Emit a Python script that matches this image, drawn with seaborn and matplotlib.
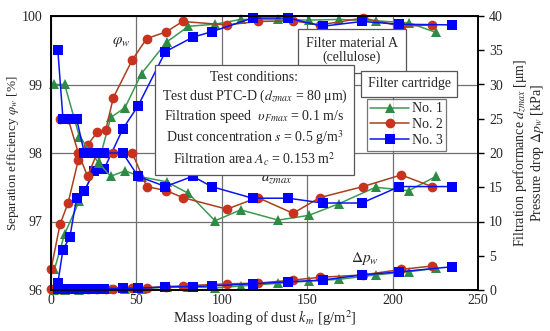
import numpy as np
import pandas as pd
import seaborn as sns
import matplotlib.pyplot as plt
from matplotlib.lines import Line2D

# cartridge No. 1 (green)
x1 = [2, 8, 16.6, 28, 35, 43.3, 53, 67.7, 80.5, 96, 111, 133, 151, 168.6, 190, 209.5, 225.5]
phi1 = [96.3, 96.82, 97.3, 97.87, 98.52, 98.66, 99.16, 99.62, 99.85, 99.88, 99.95, 99.95, 99.94, 99.95, 99.93, 99.90, 99.76]
dz1 = [30, 30, 22.4, 18.5, 16.6, 17.4, 16.5, 15.8, 14.1, 10.1, 11.7, 10.2, 10.9, 12.6, 15.0, 14.5, 16.6]
dp1 = [0.05, 0.05, 0.05, 0.1, 0.1, 0.1, 0.2, 0.4, 0.5, 0.3, 0.58, 0.98, 1.3, 1.56, 2.2, 2.67, 3.17]

# cartridge No. 2 (red)
x2 = [0, 5.3, 10, 16, 21.4, 27, 32, 36.5, 47.6, 56, 67.6, 77, 103, 121, 141.7, 157.5, 182.7, 205, 223]
phi2 = [96.3, 96.96, 97.27, 97.9, 98.12, 98.30, 98.33, 98.81, 99.36, 99.67, 99.77, 99.92, 99.87, 99.92, 99.93, 99.87, 99.97, 99.85, 99.87]
dz2 = [np.nan, 25, 25, 20, 16.6, 20, 20, 20, 20, 15.1, 14.5, 13.5, 11.8, 13.5, 11.2, 13.5, 15.1, 16.8, 15.1]
dp2 = [0.1, 0.1, 0.1, 0.1, 0.1, 0.1, 0.15, 0.2, 0.25, 0.35, 0.5, 0.6, 0.9, 1.0, 1.45, 1.85, 2.2, 3.0, 3.5]

# cartridge No. 3 (blue)
x3 = [4, 7, 11, 15, 19.5, 25, 31, 42, 51, 67, 83, 94, 118, 139, 159, 182, 204, 235]
phi3 = [96.1, 96.59, 96.77, 97.34, 97.44, 97.73, 97.76, 98.35, 98.69, 99.48, 99.69, 99.77, 99.97, 99.97, 99.85, 99.92, 99.88, 99.87]
dz3 = [35, 25, 25, 25, 20, 20, 20, 20, 16.6, 15.1, 16.6, 15.1, 13.4, 13.4, 12.7, 12.7, 15.1, 15.1]
dp3 = [0.1, 0.1, 0.1, 0.1, 0.1, 0.15, 0.2, 0.25, 0.25, 0.45, 0.5, 0.6, 0.9, 1.2, 1.45, 2.2, 2.65, 3.4]

labels = ["No. 1", "No. 2", "No. 3"]

sns.set_style("white")
plt.rcParams["font.family"] = ["Liberation Serif", "DejaVu Serif"]
plt.rcParams["mathtext.fontset"] = "stix"

fig = plt.figure(figsize=(5.5, 3.31), dpi=100)
ax = fig.add_axes([51 / 550, 1 - 290 / 331, 427 / 550, 274 / 331])
ax2 = ax.twinx()

styles = [
    dict(color="#3C9A50", marker="^", mfc="#2E8B46"),
    dict(color="#A8401E", marker="o", mfc="#C8321E"),
    dict(color="#0A14F0", marker="s", mfc="#0000FF"),
]
series = [(x1, phi1, dz1, dp1), (x2, phi2, dz2, dp2), (x3, phi3, dz3, dp3)]

for (xs, phi, dz, dp), st in zip(series, styles):
    kw = dict(color=st["color"], marker=st["marker"], markerfacecolor=st["mfc"],
              markeredgewidth=0, markersize=7, linewidth=1.1,
              sort=False, estimator=None, clip_on=False)
    sns.lineplot(x=xs, y=phi, ax=ax, **kw)
    sns.lineplot(x=xs, y=dz, ax=ax2, **kw)
    sns.lineplot(x=xs, y=dp, ax=ax2, **kw)

ax.set_xlim(0, 250)
ax.set_ylim(96, 100)
ax2.set_ylim(0, 40)
ax.set_xticks(range(0, 251, 50))
ax.set_yticks([96, 97, 98, 99, 100])
ax2.set_yticks(range(0, 41, 5))

for a in (ax, ax2):
    for sp in a.spines.values():
        sp.set_color("black")
        sp.set_linewidth(1.2)

ax.set_axisbelow(True)
ax.grid(True, color="#707070", linewidth=0.9)
ax.tick_params(axis="y", labelsize=10, length=0, pad=6)
ax.tick_params(axis="x", labelsize=10, length=0, pad=3)
ax2.tick_params(axis="y", labelsize=10, direction="out", length=4, width=1, color="black", pad=4)

ax.set_xlabel("Mass loading of dust $k_m$ [g/m$^2$]", fontsize=10.5, labelpad=1)
ax.set_ylabel("Separation efficiency $\\varphi_w$ [%]", fontsize=9.5, labelpad=1)
ax2.set_ylabel("Filtration performance $d_{zmax}$ [\u03bcm]\nPressure drop $\\Delta p_w$ [kPa]",
               fontsize=10, labelpad=6, linespacing=1.0)

# curve annotations
ax.text(41, 99.62, "$\\varphi_w$", fontsize=11, ha="center", va="center")
ax2.text(132, 16.6, "$d_{zmax}$", fontsize=11, ha="center", va="center")
ax2.text(184, 4.6, "$\\Delta p_w$", fontsize=11, ha="center", va="center")

fig.text(352 / 550, 1 - 50.5 / 331, "Filter material A\n(cellulose)", fontsize=10,
         ha="center", va="center", linespacing=1.1,
         bbox=dict(boxstyle="square,pad=0.6", facecolor="white", edgecolor="#555555", linewidth=0.9))
fig.text(409 / 550, 1 - 84 / 331, "Filter cartridge", fontsize=10, ha="center", va="center",
         bbox=dict(boxstyle="square,pad=0.5", facecolor="white", edgecolor="#555555", linewidth=0.9))
cond = ("Test conditions:\n"
        "Test dust PTC-D ($d_{zmax}$ = 80 \u03bcm)\n"
        "Filtration speed  $\\upsilon_{Fmax}$ = 0.1 m/s\n"
        "Dust concentration $s$ = 0.5 g/m$^3$\n"
        "Filtration area $A_c$ = 0.153 m$^2$")
fig.text(254.5 / 550, 1 - 119.5 / 331, cond, fontsize=10, ha="center", va="center",
         linespacing=1.25,
         bbox=dict(boxstyle="square,pad=0.5", facecolor="white", edgecolor="#555555", linewidth=0.9))

handles = [Line2D([], [], color=st["color"], marker=st["marker"], markerfacecolor=st["mfc"],
                  markeredgewidth=0, markersize=7, linewidth=1.1) for st in styles]
leg = fig.legend(handles, labels, loc="upper left", bbox_to_anchor=(367 / 550, 1 - 99 / 331),
                 fontsize=10, frameon=True, fancybox=False, edgecolor="#555555",
                 handlelength=2.8, handletextpad=0.2, borderpad=0.25, labelspacing=0.2,
                 borderaxespad=0)
leg.get_frame().set_linewidth(0.9)

fig.savefig("out.png", dpi=100)
